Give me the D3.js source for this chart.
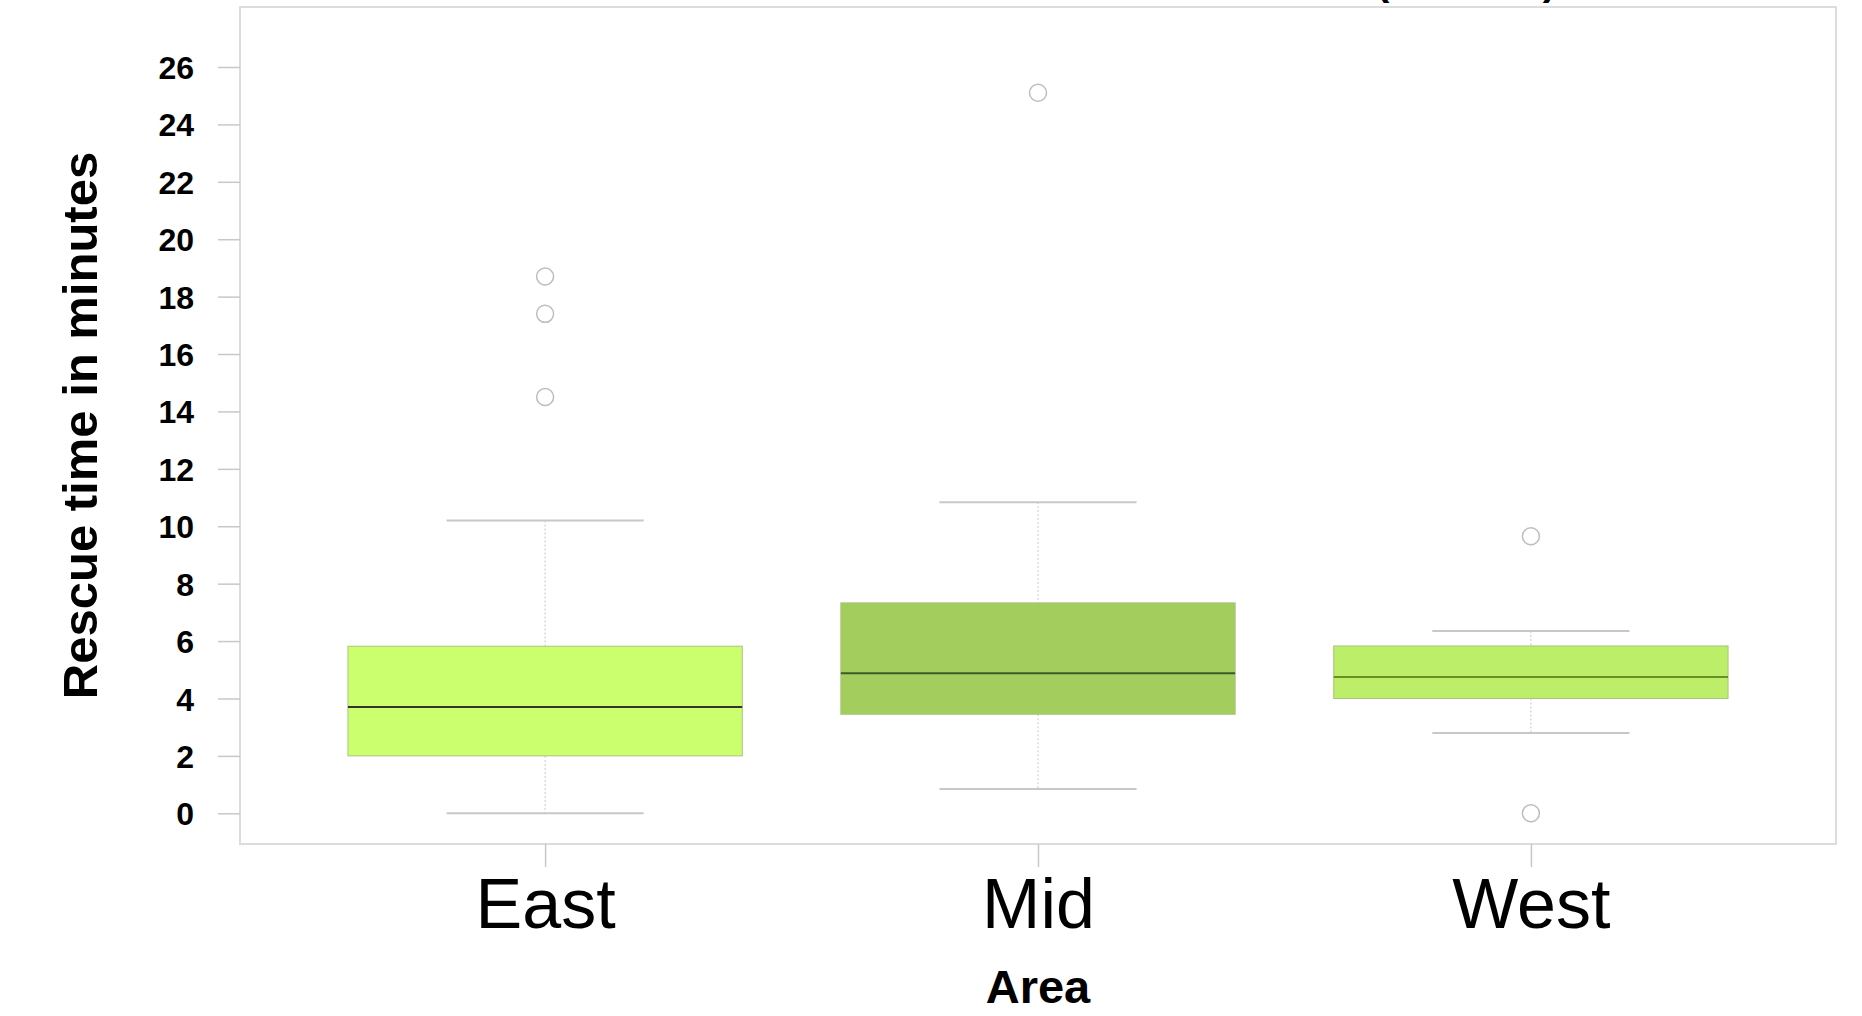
<!DOCTYPE html>
<html>
<head>
  <style>
    html, body { margin: 0; padding: 0; background: #fff; }
    svg { display: block; font-family: "Liberation Sans", Arial, sans-serif; }
    .ytick text { font-size: 32px; font-weight: bold; fill: #000; }
    .xtick text { font-size: 70px; fill: #000; }
    .axis-title { font-weight: bold; fill: #000; }
  </style>
</head>
<body>
  <div id="chart"></div>

  <script src="https://cdnjs.cloudflare.com/ajax/libs/d3/7.8.5/d3.min.js"></script>
  <script>
    // Datos
    const areas = ["East", "Mid", "West"];
    const whiskerLow = [0, 0.85, 2.8];
    const q1 = [2.0, 3.45, 4.0];
    const median = [3.7, 4.88, 4.75];
    const q3 = [5.82, 7.33, 5.83];
    const whiskerHigh = [10.2, 10.84, 6.35];
    const outliers = [[14.5, 17.4, 18.7], [25.1], [0, 9.65]];
    const yTicks = [0, 2, 4, 6, 8, 10, 12, 14, 16, 18, 20, 22, 24, 26];

    const boxFill = ["#ccff6e", "#a3cd5d", "#bdee6a"];
    const medianColor = ["#333333", "#3d5a2b", "#6b8e23"];

    const width = 1862;
    const height = 1016;
    const plot = { left: 240, right: 1836, top: 7, bottom: 844 };

    const svg = d3.select("#chart")
      .append("svg")
      .attr("width", width)
      .attr("height", height);

    // Escalas
    const x = d3.scalePoint()
      .domain(areas)
      .range([plot.left, plot.right])
      .padding(0.619);

    const y = d3.scaleLinear()
      .domain([-1.07, 28.09])
      .range([plot.bottom, plot.top]);

    const step = x.step();
    const boxW = step * 0.8;
    const capW = step * 0.4;

    // Titulo (recortado arriba, solo asoman los parentesis)
    svg.append("text")
      .attr("class", "axis-title")
      .attr("x", 1556)
      .attr("y", -5)
      .attr("text-anchor", "end")
      .style("font-size", "40px")
      .text("Rescue time at each area (minutes)");

    // Marco del area de dibujo
    svg.append("rect")
      .attr("x", plot.left)
      .attr("y", plot.top)
      .attr("width", plot.right - plot.left)
      .attr("height", plot.bottom - plot.top)
      .attr("fill", "none")
      .attr("stroke", "#dcdcdc")
      .attr("stroke-width", 2);

    // Eje Y
    const yAxisG = svg.append("g")
      .attr("class", "ytick")
      .attr("transform", `translate(${plot.left},0)`)
      .call(d3.axisLeft(y).tickValues(yTicks).tickSize(22).tickPadding(24));
    yAxisG.select(".domain").remove();
    yAxisG.selectAll("line").attr("stroke", "#c8c8c8").attr("stroke-width", 1.5);
    yAxisG.selectAll("text").attr("dy", "0.36em");

    // Eje X
    const xAxisG = svg.append("g")
      .attr("class", "xtick")
      .attr("transform", `translate(0,${plot.bottom})`)
      .call(d3.axisBottom(x).tickSize(23).tickPadding(8));
    xAxisG.select(".domain").remove();
    xAxisG.selectAll("line").attr("stroke", "#c8c8c8").attr("stroke-width", 1.5);
    xAxisG.selectAll("text").attr("dy", "0.75em");

    // Titulos de ejes
    svg.append("text")
      .attr("class", "axis-title")
      .attr("transform", `translate(97,${(plot.top + plot.bottom) / 2}) rotate(-90)`)
      .attr("text-anchor", "middle")
      .style("font-size", "49px")
      .text("Rescue time in minutes");

    svg.append("text")
      .attr("class", "axis-title")
      .attr("x", x("Mid"))
      .attr("y", 1003)
      .attr("text-anchor", "middle")
      .style("font-size", "47px")
      .text("Area");

    // Cajas
    const boxes = svg.append("g");
    areas.forEach((a, i) => {
      const cx = x(a);
      const g = boxes.append("g");

      // bigotes punteados
      g.append("line")
        .attr("x1", cx).attr("x2", cx)
        .attr("y1", y(whiskerHigh[i])).attr("y2", y(q3[i]))
        .attr("stroke", "#c8c8c8").attr("stroke-dasharray", "2,2");
      g.append("line")
        .attr("x1", cx).attr("x2", cx)
        .attr("y1", y(q1[i])).attr("y2", y(whiskerLow[i]))
        .attr("stroke", "#c8c8c8").attr("stroke-dasharray", "2,2");

      // topes
      [whiskerLow[i], whiskerHigh[i]].forEach(v => {
        g.append("line")
          .attr("x1", cx - capW / 2).attr("x2", cx + capW / 2)
          .attr("y1", y(v)).attr("y2", y(v))
          .attr("stroke", "#c8c8c8").attr("stroke-width", 2);
      });

      g.append("rect")
        .attr("x", cx - boxW / 2)
        .attr("y", y(q3[i]))
        .attr("width", boxW)
        .attr("height", y(q1[i]) - y(q3[i]))
        .attr("fill", boxFill[i])
        .attr("stroke", "#a9c47c")
        .attr("stroke-width", 1);

      g.append("line")
        .attr("x1", cx - boxW / 2).attr("x2", cx + boxW / 2)
        .attr("y1", y(median[i])).attr("y2", y(median[i]))
        .attr("stroke", medianColor[i]).attr("stroke-width", 2);

      g.selectAll("circle")
        .data(outliers[i])
        .join("circle")
        .attr("cx", cx)
        .attr("cy", d => y(d))
        .attr("r", 8.5)
        .attr("fill", "#fff")
        .attr("stroke", "#bdbdbd")
        .attr("stroke-width", 1.5);
    });
  </script>
</body>
</html>
